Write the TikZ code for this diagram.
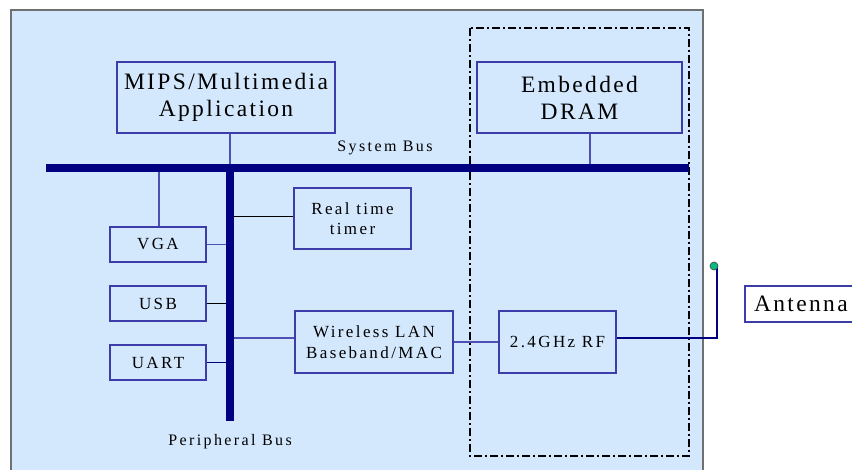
\documentclass[tikz,border=0pt]{standalone}
\usepackage{fontspec}
\setmainfont{Liberation Serif}
\usetikzlibrary{calc}
\definecolor{panel}{RGB}{212,232,253}
\definecolor{frameline}{RGB}{112,112,112}
\definecolor{boxline}{RGB}{60,60,170}
\definecolor{busblue}{RGB}{0,0,128}
\definecolor{wireblue}{RGB}{80,80,180}
\definecolor{dotgreen}{RGB}{0,190,130}
\tikzset{
  unit/.style={draw=boxline, line width=1.2pt, fill=panel, inner sep=0pt,
    align=center, text=black},
  bigtext/.style={font=\fontsize{23.5}{27}\selectfont\addfontfeature{LetterSpace=10}},
  midtext/.style={font=\fontsize{17}{20.5}\selectfont\addfontfeature{LetterSpace=14}},
  labeltext/.style={font=\fontsize{16}{19}\selectfont\addfontfeature{LetterSpace=15}},
  bus/.style={busblue, line width=7.5pt},
  wire/.style={wireblue, line width=1.2pt},
  darkwire/.style={black, line width=0.9pt},
  navywire/.style={busblue, line width=1.2pt},
}
\begin{document}
\begin{tikzpicture}[x=1pt,y=-1pt]
\useasboundingbox (0,0) rectangle (852,470);
\begin{scope}
\clip (0,0) rectangle (852,470);

% chip outline
\draw[frameline, line width=1.5pt, fill=panel] (11,10) rectangle (703,490);

% memory / RF island
\draw[black, line width=2.2pt, dash pattern=on 8pt off 3pt on 2pt off 3pt]
  (470,28) rectangle (689,456);

% bus endpoints
\coordinate (sysL) at (46,168);
\coordinate (sysR) at (689,168);
\coordinate (perT) at (230,168);
\coordinate (perB) at (230,421);

% blocks
\node[unit, bigtext, minimum width=218pt, minimum height=71pt] (mips) at (226,97.5)
  {MIPS/Multimedia\\Application};
\node[unit, bigtext, minimum width=205pt, minimum height=71pt] (dram) at (579.5,97.5)
  {Embedded\\DRAM};
\node[unit, midtext, minimum width=117pt, minimum height=61pt] (rtt) at (352.5,218.5)
  {Real time\\timer};
\node[unit, midtext, minimum width=96pt, minimum height=35pt] (vga) at (158,244.5) {VGA};
\node[unit, midtext, minimum width=96pt, minimum height=35pt] (usb) at (158,303.5) {USB};
\node[unit, midtext, minimum width=96pt, minimum height=35pt] (uart) at (158,362.5) {UART};
\node[unit, midtext, minimum width=158pt, minimum height=62pt] (wlan) at (374,342)
  {Wireless LAN\\Baseband/MAC};
\node[unit, midtext, minimum width=117pt, minimum height=62pt] (rf) at (557.5,342)
  {2.4GHz RF};
\node[unit, bigtext, fill=white, minimum width=125pt, minimum height=36pt,
  text width=107pt, align=left] (ant) at (807.5,304) {Antenna};

% bus labels
\node[labeltext] (syslabel) at (385,148) {System Bus};
\node[labeltext] (perlabel) at (230,442) {Peripheral Bus};

% connectors onto the buses
\draw[wire] (mips.south -| perT) -- (perT);
\draw[wire] (dram.south -| 590,0) coordinate (dramtap) -- (dramtap |- sysR);
\draw[wire] (vga.north -| 159,0) coordinate (vgatap) -- (vgatap |- sysL);
\draw[wire] (vga.east) -- (vga.east -| perT);
\draw[darkwire] (usb.east) -- (usb.east -| perT);
\draw[navywire] (uart.east) -- (uart.east -| perT);
\draw[darkwire] ($(rtt.west)+(0,-2.5)$) coordinate (rtttap) -- (rtttap -| perT);
\draw[wire] ($(wlan.west)+(0,-4)$) coordinate (wlantap) -- (wlantap -| perT);
\draw[wire] (wlan.east) -- (rf.west);

% antenna feed
\coordinate (antfoot) at (717,338);
\coordinate (anttip) at (717,266);
\draw[navywire] ($(rf.east)+(0,-4)$) -- (antfoot) -- (anttip);
\node[circle, draw=black!70, line width=0.7pt, fill=dotgreen, minimum size=8pt,
  inner sep=0pt] (antdot) at (714,266) {};

% buses drawn on top of their taps
\draw[bus] (sysL) -- (sysR);
\draw[bus, line width=8pt] (perT) -- (perB);
\end{scope}
\end{tikzpicture}
\end{document}
